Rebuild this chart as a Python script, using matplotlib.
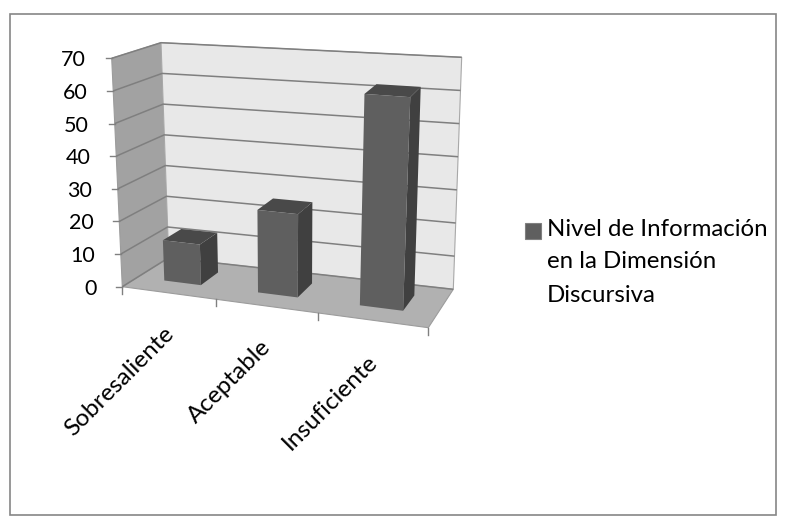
import numpy as np
import matplotlib
matplotlib.use("Agg")
import matplotlib.pyplot as plt
from matplotlib.patches import Polygon, Rectangle

plt.rcParams['font.family'] = ['Lato', 'DejaVu Sans']

# Chart values
categories = ["Sobresaliente", "Aceptable", "Insuficiente"]
values = [12.5, 25, 62.5]
y_ticks = [0, 10, 20, 30, 40, 50, 60, 70]
series_name = "Nivel de Información\nen la Dimensión\nDiscursiva"

W, H = 787, 519
fig = plt.figure(figsize=(W / 100, H / 100), dpi=100, facecolor="white")
ax = fig.add_axes([0, 0, 1, 1])
ax.set_xlim(0, W)
ax.set_ylim(H, 0)
ax.axis("off")

# Box corners on the canvas, indexed by (across, depth, up)
CORNERS = {
    (0, 0, 0): (122.3, 286.7), (0, 0, 1): (111.7, 58.3),
    (0, 1, 0): (168.7, 257.7), (0, 1, 1): (161.0, 42.7),
    (1, 1, 0): (453.3, 289.3), (1, 1, 1): (461.7, 57.3),
    (1, 0, 0): (428.3, 327.7), (1, 0, 1): (439.5, 82.0),
}
Y_MAX = y_ticks[-1]
FORESHORTEN = 1.134  # perspective squeeze along the category direction


def project(cat, depth, val):
    """Map category position (0..n), depth (0..1) and value to canvas pixels."""
    t = cat / len(categories)
    u = t / (t + FORESHORTEN * (1 - t))
    z = val / Y_MAX
    x = y = 0.0
    for (i, j, k), (cx, cy) in CORNERS.items():
        w = (u if i else 1 - u) * (depth if j else 1 - depth) * (z if k else 1 - z)
        x += w * cx
        y += w * cy
    return x, y


def face(points, color, edge="none", lw=0, z=1):
    ax.add_patch(Polygon([project(*p) for p in points], closed=True, facecolor=color,
                         edgecolor=edge, linewidth=lw, zorder=z))


n = len(categories)
EDGE = "#9c9c9c"

# Chart frame
ax.add_patch(Rectangle((9.5, 13.5), 766, 501, facecolor="white", edgecolor="#868686", linewidth=1.2, zorder=0))

# Floor and walls
face([(0, 0, 0), (n, 0, 0), (n, 1, 0), (0, 1, 0)], "#b1b1b1", EDGE, 0.8, 1)
face([(0, 0, 0), (0, 1, 0), (0, 1, Y_MAX), (0, 0, Y_MAX)], "#a2a2a2", EDGE, 0.8, 1)
face([(0, 1, 0), (n, 1, 0), (n, 1, Y_MAX), (0, 1, Y_MAX)], "#e8e8e8", "#a8a8a8", 0.8, 1)

# Gridlines along both walls
for v in y_ticks:
    pts = [project(0, 0, v), project(0, 1, v), project(n, 1, v)]
    ax.plot(*zip(*pts), color="#7f7f7f", lw=1.1, zorder=2, solid_capstyle="butt")

# Value axis ticks and labels
for v in y_ticks:
    x0, y0 = project(0, 0, v)
    ax.plot([x0 - 6, x0], [y0, y0], color="#808080", lw=1, zorder=2)
    ax.text(x0 - 26, y0 + 2, str(v), ha="right", va="center", fontsize=15.5, color="black")

# Category axis ticks
for c in range(n + 1):
    x0, y0 = project(c, 0, 0)
    ax.plot([x0, x0], [y0, y0 + 7], color="#808080", lw=1, zorder=2)

# Bars
D0, D1 = 0.33, 0.74
for i, v in enumerate(values):
    a, b = i + 0.3, i + 0.7
    face([(b, D0, 0), (b, D1, 0), (b, D1, v), (b, D0, v)], "#404040", z=3)
    face([(a, D0, v), (b, D0, v), (b, D1, v), (a, D1, v)], "#494949", z=3)
    face([(a, D0, 0), (b, D0, 0), (b, D0, v), (a, D0, v)], "#5f5f5f", z=4)

# Category labels, slanted and ending under each tick
for i, name in enumerate(categories):
    x0, y0 = project(i + 0.5, 0, 0)
    ax.text(x0 + 2, y0 + 38, name, rotation=45, rotation_mode="anchor", ha="right", va="center",
            fontsize=17.5, color="black")

# Legend
ax.add_patch(Rectangle((525, 223), 15.5, 15.5, facecolor="#5f5f5f", edgecolor="#808080", linewidth=0.8, zorder=3))
for line, ypos in zip(series_name.split("\n"), (230, 262, 295)):
    ax.text(547, ypos, line, ha="left", va="center", fontsize=17.3, color="black")

fig.savefig("out.png", dpi=100)
